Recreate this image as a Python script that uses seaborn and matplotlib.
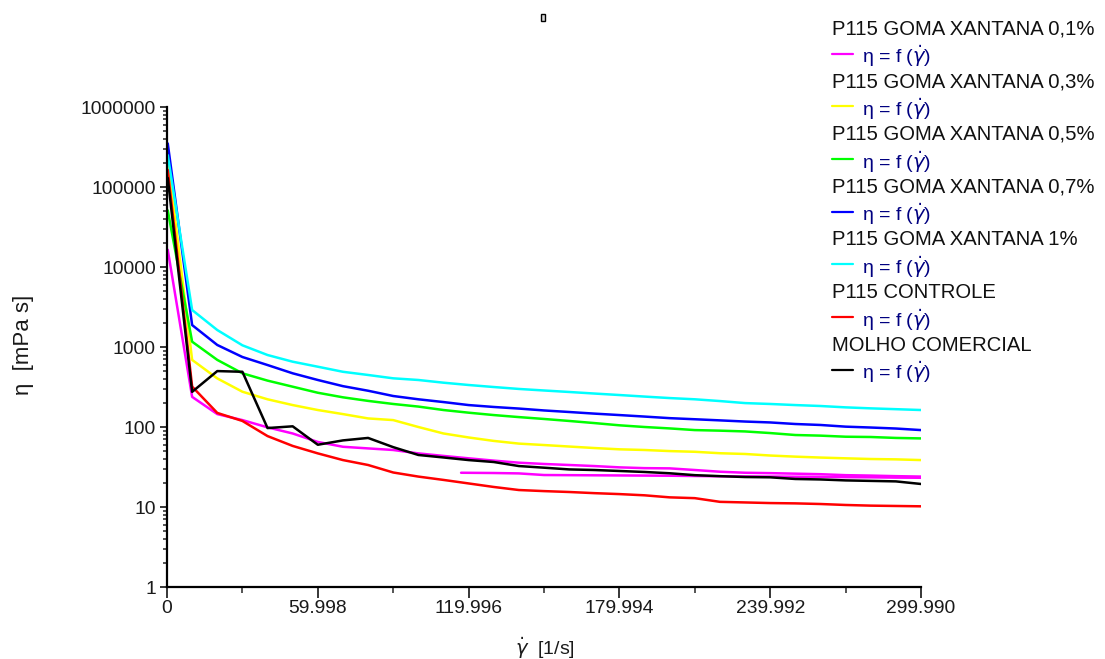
import matplotlib
matplotlib.use("Agg")
import matplotlib.pyplot as plt
import pandas as pd
import seaborn as sns
from matplotlib import font_manager
from matplotlib.lines import Line2D
from matplotlib.patches import Rectangle
from matplotlib.ticker import FixedLocator, FixedFormatter, NullFormatter

# Shear rate grid of the sweep (1/s)
SHEAR = [0.3, 10, 20, 30, 40, 50, 60, 70, 80, 90, 100, 110, 120, 130, 140, 150,
         160, 170, 180, 190, 200, 210, 220, 230, 240, 250, 260, 270, 280, 290, 299.99]

# Apparent viscosity (mPa s) for each sample
ETA_XG01 = [16400, 238, 145, 122, 99, 83, 65, 56.6, 54, 51.6, 46.8, 43.5, 40.6, 38, 35.8, 34.5,
            33.5, 32.5, 31.3, 30.6, 30.4, 29, 27.6, 26.8, 26.5, 26.1, 25.7, 25, 24.7, 24.3, 24]
ETA_XG03 = [230000, 690, 405, 276, 222, 188, 163, 145, 128, 122, 100, 83, 74, 67, 62, 59.5,
            57, 54.6, 52.6, 51.6, 50, 49, 47, 46, 44, 42.6, 41.5, 40.6, 39.8, 39.4, 38.6]
ETA_XG05 = [51000, 1165, 690, 469, 380, 319, 268, 235, 212, 194, 180, 163, 151, 141, 133, 126,
            119, 112, 105, 100, 96, 91.5, 90, 88, 84, 79.4, 78, 75.6, 75, 73, 72]
ETA_XG07 = [350000, 1880, 1060, 750, 595, 469, 387, 324, 284, 244, 222, 205, 188, 178, 170, 161,
            154, 147, 141, 135, 129, 125, 121, 117, 114, 109, 106, 101, 98.5, 95.7, 91.5]
ETA_XG10 = [250000, 2900, 1630, 1050, 794, 655, 567, 490, 447, 406, 387, 358, 335, 316, 299, 286,
            274, 262, 251, 240, 230, 222, 211, 199, 194, 188, 183, 176, 171, 167, 163]
ETA_CONTROL = [163000, 320, 150, 119, 77, 58, 46.8, 38.6, 33.5, 27, 24, 21.8, 19.7, 17.8, 16.3, 15.8,
               15.4, 14.9, 14.5, 14, 13.2, 12.9, 11.6, 11.4, 11.2, 11.1, 10.9, 10.6, 10.4, 10.3, 10.2]
ETA_COMMERCIAL = [130000, 275, 500, 490, 97, 102, 60, 68, 73, 56, 44.7, 41.6, 38.6, 36.5, 32.5, 31,
                  29.5, 29, 28.2, 27.4, 26.4, 25, 24.3, 23.7, 23.5, 22.4, 22.1, 21.5, 21.2, 20.9, 19.4]

# Second (partial) sweep recorded for the 0,1 % sample
SHEAR_XG01_B = [117, 130, 140, 150, 160, 170, 180, 190, 200, 210, 220, 230, 240, 250, 260,
                270, 280, 290, 299.99]
ETA_XG01_B = [26.8, 26.6, 26.3, 25.1, 25.0, 24.9, 24.8, 24.7, 24.6, 24.4, 24.2, 24.1, 24.0,
              23.9, 23.8, 23.6, 23.5, 23.3, 23.2]

SERIES = ["P115 GOMA XANTANA 0,1%", "P115 GOMA XANTANA 0,3%", "P115 GOMA XANTANA 0,5%",
          "P115 GOMA XANTANA 0,7%", "P115 GOMA XANTANA 1%", "P115 CONTROLE", "MOLHO COMERCIAL"]
VALUES = [ETA_XG01, ETA_XG03, ETA_XG05, ETA_XG07, ETA_XG10, ETA_CONTROL, ETA_COMMERCIAL]
COLORS = ["#FF00FF", "#FFFF00", "#00FF00", "#0000FF", "#00FFFF", "#FF0000", "#000000"]

X_TICKS = [0, 59.998, 119.996, 179.994, 239.992, 299.990]
X_TICK_LABELS = ["0", "59.998", "119.996", "179.994", "239.992", "299.990"]
Y_TICKS = [1, 10, 100, 1000, 10000, 100000, 1000000]
Y_TICK_LABELS = ["1", "10", "100", "1000", "10000", "100000", "1000000"]

sns.set_style("ticks")
available = {f.name for f in font_manager.fontManager.ttflist}
HAS_NARROW = "Liberation Sans Narrow" in available
BASE = "Liberation Sans Narrow" if HAS_NARROW else "Liberation Sans"
plt.rcParams["font.family"] = [BASE, "DejaVu Sans"]
plt.rcParams["mathtext.fontset"] = "dejavusans"

# text sizes (pt) tuned to the face that is available
TICK_FS = 16.8 if HAS_NARROW else 13.9
NAME_FS = 17.8 if HAS_NARROW else 14.6
FUNC_FS = 16.0 if HAS_NARROW else 14.0

W, H = 1105, 659
fig = plt.figure(figsize=(W / 100, H / 100), dpi=100)
fig.patch.set_facecolor("white")
ax = fig.add_axes([167 / W, (H - 587) / H, 754 / W, 480 / H])
ax.set_facecolor("white")

for name, color, eta in zip(SERIES, COLORS, VALUES):
    df = pd.DataFrame({"shear": SHEAR, "eta": eta})
    sns.lineplot(data=df, x="shear", y="eta", color=color, lw=1.8, ax=ax,
                 estimator=None, sort=False, legend=False)
    if name == SERIES[0]:
        df_b = pd.DataFrame({"shear": SHEAR_XG01_B, "eta": ETA_XG01_B})
        sns.lineplot(data=df_b, x="shear", y="eta", color=color, lw=1.8, ax=ax,
                     estimator=None, sort=False, legend=False)

ax.set_yscale("log")
ax.set_xlim(0, 299.99)
ax.set_ylim(1, 1000000)

ax.xaxis.set_major_locator(FixedLocator(X_TICKS))
ax.xaxis.set_major_formatter(FixedFormatter(X_TICK_LABELS))
minor_x = [(a + b) / 2 for a, b in zip(X_TICKS[:-1], X_TICKS[1:])]
ax.xaxis.set_minor_locator(FixedLocator(minor_x))
ax.yaxis.set_major_locator(FixedLocator(Y_TICKS))
ax.yaxis.set_major_formatter(FixedFormatter(Y_TICK_LABELS))
minor_y = [m * d for d in Y_TICKS[:-1] for m in range(2, 10)]
ax.yaxis.set_minor_locator(FixedLocator(minor_y))
ax.yaxis.set_minor_formatter(NullFormatter())

for side in ("top", "right"):
    ax.spines[side].set_visible(False)
for side in ("left", "bottom"):
    ax.spines[side].set_linewidth(1.6)
    ax.spines[side].set_color("black")

ax.tick_params(axis="y", which="major", direction="out", length=5, width=1.3,
               labelsize=TICK_FS, labelcolor="#1a1a1a", pad=3)
ax.tick_params(axis="y", which="minor", direction="out", length=3, width=1.1)
ax.tick_params(axis="x", which="major", direction="out", length=8, width=1.3,
               labelsize=TICK_FS, labelcolor="#1a1a1a", pad=1.5)
ax.tick_params(axis="x", which="minor", direction="out", length=4, width=1.1)

ax.set_xlabel("")
ax.set_ylabel("")
fig.text(545 / W, 1 - 648 / H, r"$\dot{\gamma}$  [1/s]", ha="center", va="center",
         fontsize=14, color="#1a1a1a", family=["Liberation Sans", "DejaVu Sans"])
fig.text(23 / W, 1 - 345 / H, "η  [mPa s]", ha="center", va="center", rotation=90,
         fontsize=16, color="#1a1a1a", family=["Liberation Sans", "DejaVu Sans"])

# small title placeholder box
fig.add_artist(Rectangle((541 / W, 1 - 21 / H), 4 / W, 7 / H, transform=fig.transFigure,
                         facecolor="#d8d8d8", edgecolor="black", lw=1))

# legend block on the right
for i, (name, color) in enumerate(zip(SERIES, COLORS)):
    name_y = 29 + 52.7 * i
    line_y = name_y + 24.5
    fig.text(832 / W, 1 - name_y / H, name, ha="left", va="center", fontsize=NAME_FS,
             color="#111111")
    fig.add_artist(Line2D([832 / W, 853 / W], [1 - line_y / H] * 2, color=color, lw=1.6,
                          transform=fig.transFigure))
    fig.text(862 / W, 1 - (line_y + 3) / H, r"η = f ($\dot{\gamma}$)", ha="left",
             va="center", fontsize=FUNC_FS, color="#000080")

fig.savefig("out.png", dpi=100, facecolor="white")
